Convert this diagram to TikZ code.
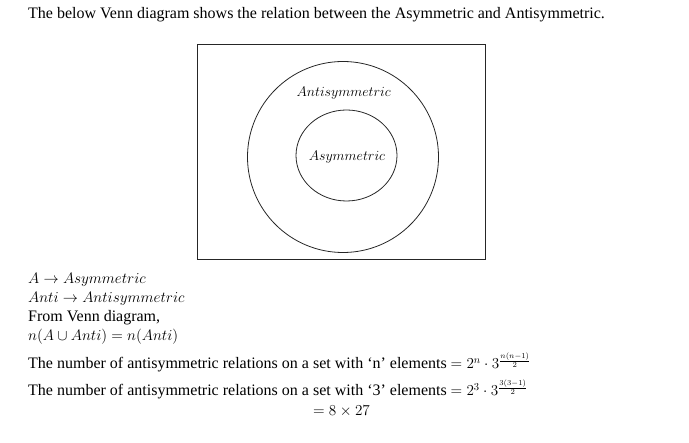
\RequirePackage{fix-cm}
\documentclass[tikz,border=0pt]{standalone}
\usepackage{fontspec}
\setmainfont{Liberation Serif}
\usetikzlibrary{shapes.geometric}
\tikzset{
  txt/.style={anchor=base west, inner sep=0pt, font=\fontsize{16}{19}\selectfont},
  mth/.style={anchor=base west, inner sep=0pt, font=\fontsize{15.2}{18}\selectfont},
  lbl/.style={anchor=base, inner sep=0pt, font=\fontsize{14}{16}\selectfont},
  ln/.style={draw=black!85, line width=0.8pt}
}
\newcommand{\mathsz}{\fontsize{15.2}{18}\selectfont}
\begin{document}
\begin{tikzpicture}[x=1pt,y=-1pt]
\useasboundingbox (0,0) rectangle (689,443);
\node[txt] (title) at (28,19) {The below Venn diagram shows the relation between the Asymmetric and Antisymmetric.};
\node[ln, rectangle, minimum width=288pt, minimum height=215pt, inner sep=0pt] (box) at (341,151.5) {};
\node[ln, circle, minimum size=191pt, inner sep=0pt] (anti) at (343,157) {};
\node[ln, ellipse, minimum width=101pt, minimum height=91pt, inner sep=0pt] (asym) at (346.5,155.5) {};
\node[lbl] (antilbl) at (343.7,96.5) {$Antisymmetric$};
\node[lbl] (asymlbl) at (347,160.5) {$Asymmetric$};
\node[mth] (l1) at (28,284) {$A \rightarrow Asymmetric$};
\node[mth] (l2) at (28,303) {$Anti \rightarrow Antisymmetric$};
\node[txt] (l3) at (28,322) {From Venn diagram,};
\node[mth] (l4) at (28,341) {$n(A \cup Anti) = n(Anti)$};
\node[txt] (l5) at (28,369) {The number of antisymmetric relations on a set with ‘n’ elements {\mathsz$=2^{n}\cdot 3^{\frac{n(n-1)}{2}}$}};
\node[txt] (l6) at (28,396) {The number of antisymmetric relations on a set with ‘3’ elements {\mathsz$=2^{3}\cdot 3^{\frac{3(3-1)}{2}}$}};
\node[mth] (l7) at (313,416) {$=8\times 27$};
\end{tikzpicture}
\end{document}
